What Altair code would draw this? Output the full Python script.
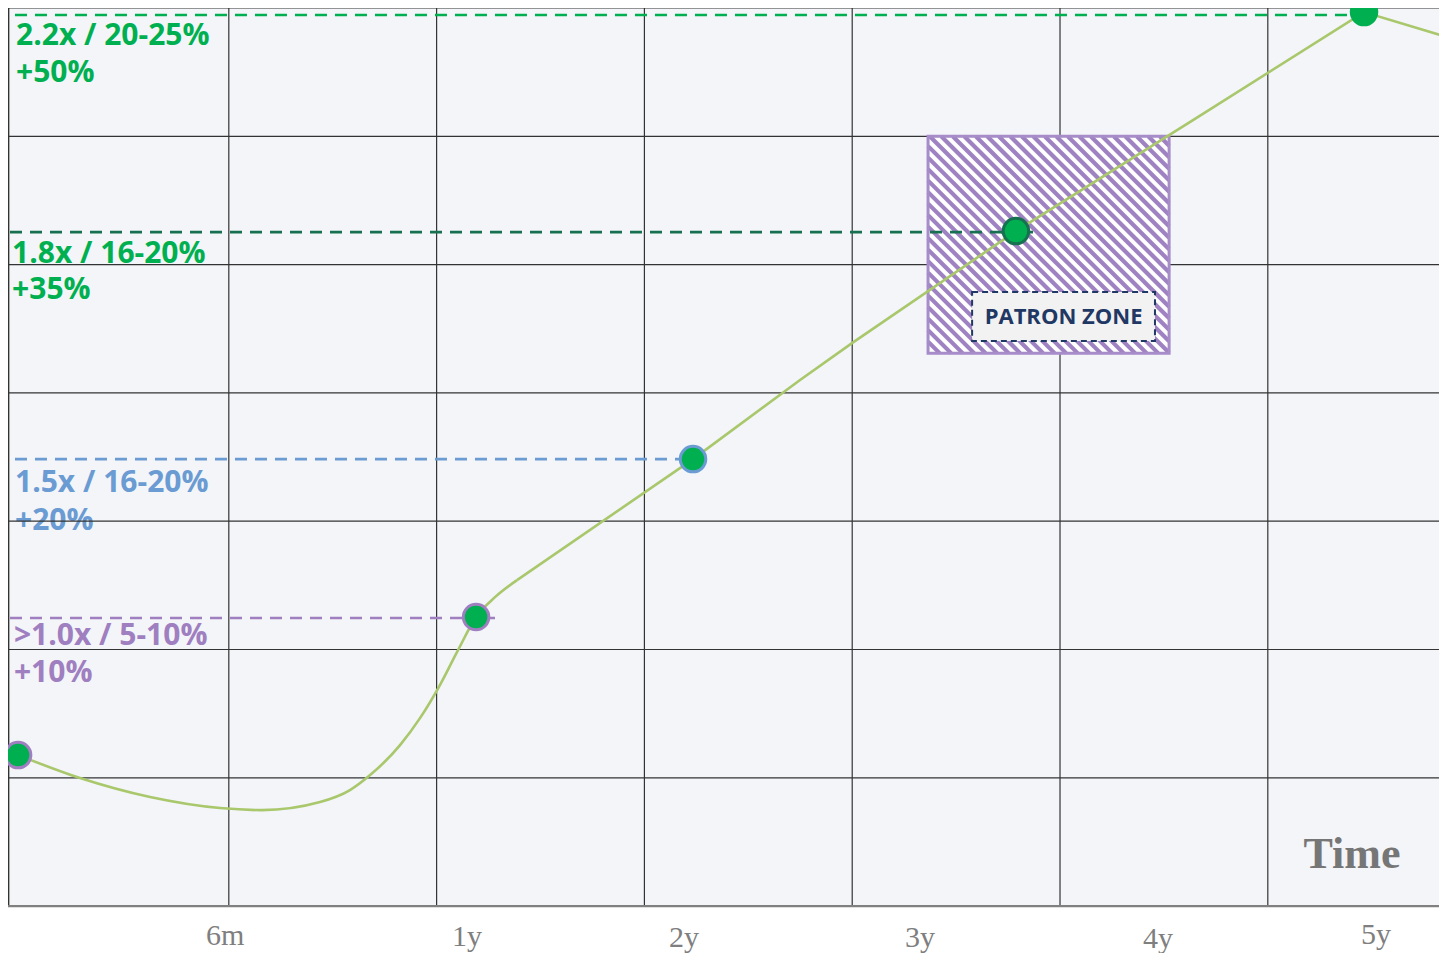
import altair as alt
import numpy as np
import pandas as pd

# ---------------- data (grid step = 1 unit on both axes) ----------------
# smooth part of the growth curve
curve1_x = [-0.014, 0.284, 0.621, 0.958, 1.160, 1.439, 1.583, 1.680, 1.824, 1.920,
            2.016, 2.103, 2.190, 2.281, 2.387]
curve1_y = [1.177, 0.998, 0.850, 0.764, 0.748, 0.811, 0.904, 1.021, 1.255, 1.465,
            1.723, 1.995, 2.253, 2.408, 2.541]
# straight part of the growth curve
curve2_x = [2.387, 3.234, 3.749, 3.999, 4.788, 5.640, 6.463, 6.862]
curve2_y = [2.541, 3.484, 4.100, 4.388, 5.261, 6.126, 6.968, 6.773]

# milestone dots
dot_x = [-0.014, 2.190, 3.234, 4.788, 6.463]
dot_y = [1.177, 2.253, 3.484, 5.261, 6.968]
dot_stroke = ["#9f7fc0", "#9f7fc0", "#6a9bd2", "#17704f", "#00b050"]

# dashed level lines
lvl_y = [6.945, 5.253, 3.484, 2.245]
lvl_x0 = [-0.029, -0.053, -0.029, -0.053]
lvl_x1 = [6.396, 4.870, 3.234, 2.281]
lvl_color = ["#00b050", "#17704f", "#6a9bd2", "#9f7fc0"]

# level texts
lvl_text = ["2.2x / 20-25%", "+50%", "1.8x / 16-20%", "+35%",
            "1.5x / 16-20%", "+20%", ">1.0x / 5-10%", "+10%"]
lvl_text_x = [-0.024, -0.024, -0.043, -0.043, -0.029, -0.029, -0.034, -0.034]
lvl_text_y = [6.711, 6.422, 5.012, 4.731, 3.227, 2.931, 2.034, 1.746]
lvl_text_color = ["#00b050", "#00b050", "#00b050", "#00b050",
                  "#6a9bd2", "#6a9bd2", "#9f7fc0", "#9f7fc0"]

# time labels under the chart
time_labels = ["6m", "1y", "2y", "3y", "4y", "5y"]
time_x = [0.982, 2.146, 3.190, 4.326, 5.472, 6.521]
time_y = [-0.304, -0.312, -0.322, -0.322, -0.328, -0.296]

# patron zone box and its label box
zone_x = [4.365, 5.525]
zone_y = [4.310, 6.000]
zone_label_x = [4.577, 5.457]
zone_label_y = [4.404, 4.786]

grid_v = [1, 2, 3, 4, 5, 6]
grid_h = [1, 2, 3, 4, 5, 6, 7]

# ---------------- layout ----------------
W, H = 1431, 945
X_MIN = -0.0626
X_MAX = X_MIN + W / 207.8
Y_MAX = 7.0
Y_MIN = Y_MAX - H / 128.3

xs = alt.Scale(domain=[X_MIN, X_MAX], nice=False, zero=False)
ys = alt.Scale(domain=[Y_MIN, Y_MAX], nice=False, zero=False)


def enc_xy(x="x", y="y"):
    return dict(x=alt.X(f"{x}:Q", scale=xs, axis=None),
                y=alt.Y(f"{y}:Q", scale=ys, axis=None))


def seg_layer(df, color, width, dash=None):
    kw = dict(color=color, strokeWidth=width)
    if dash:
        kw["strokeDash"] = dash
    return alt.Chart(df).mark_rule(**kw).encode(
        x=alt.X("x:Q", scale=xs, axis=None), x2="x2:Q",
        y=alt.Y("y:Q", scale=ys, axis=None), y2="y2:Q")


def rect_layer(df, **kw):
    return alt.Chart(df).mark_rect(**kw).encode(
        x=alt.X("x:Q", scale=xs, axis=None), x2="x2:Q",
        y=alt.Y("y:Q", scale=ys, axis=None), y2="y2:Q")


bg = rect_layer(pd.DataFrame({"x": [X_MIN], "x2": [X_MAX], "y": [0.0], "y2": [Y_MAX]}),
                color="#f3f5f9")

texts = alt.Chart(pd.DataFrame({"x": lvl_text_x, "y": lvl_text_y, "t": lvl_text,
                                "c": lvl_text_color})).mark_text(
    align="left", baseline="alphabetic", font="Open Sans", fontWeight="bold",
    fontSize=30).encode(**enc_xy(), text="t:N", color=alt.Color("c:N", scale=None))

vgrid = seg_layer(pd.DataFrame({"x": grid_v, "x2": grid_v, "y": [0.0] * 6, "y2": [Y_MAX] * 6}),
                  "#333333", 1.2)
hgrid = seg_layer(pd.DataFrame({"x": [X_MIN] * 7, "x2": [X_MAX] * 7, "y": grid_h, "y2": grid_h}),
                  "#333333", 1.2)
left_axis = seg_layer(pd.DataFrame({"x": [X_MIN + 0.003], "x2": [X_MIN + 0.003],
                                    "y": [0.0], "y2": [Y_MAX]}), "#333333", 1.5)
bottom_axis = seg_layer(pd.DataFrame({"x": [X_MIN], "x2": [X_MAX], "y": [0.0], "y2": [0.0]}),
                        "#808080", 2.2)

# hatch of the patron zone (45 degree stripes in screen space)
px_x = W / (X_MAX - X_MIN)
px_y = H / (Y_MAX - Y_MIN)
bw = (zone_x[1] - zone_x[0]) * px_x
bh = (zone_y[1] - zone_y[0]) * px_y
rows = []
for c in np.arange(-bh, bw, 11.5):
    t0, t1 = max(0.0, -c), min(bh, bw - c)
    if t1 <= t0:
        continue
    rows.append({"x": zone_x[0] + (c + t0) / px_x, "y": zone_y[1] - t0 / px_y,
                 "x2": zone_x[0] + (c + t1) / px_x, "y2": zone_y[1] - t1 / px_y})
hatch_df = pd.DataFrame(rows)

zone_df = pd.DataFrame({"x": [zone_x[0]], "x2": [zone_x[1]], "y": [zone_y[0]], "y2": [zone_y[1]]})
zone_fill = rect_layer(zone_df, color="white")
hatch = seg_layer(hatch_df, "#9f82c2", 4.2)
zone_border = rect_layer(zone_df, fill="white", fillOpacity=0, stroke="#a68cc8", strokeWidth=3)

zl_df = pd.DataFrame({"x": [zone_label_x[0]], "x2": [zone_label_x[1]],
                      "y": [zone_label_y[0]], "y2": [zone_label_y[1]]})
zone_label_box = rect_layer(zl_df, fill="#f2f2f2", stroke="#1f3864", strokeWidth=2,
                            strokeDash=[6, 4])
zone_label = alt.Chart(pd.DataFrame({"x": [sum(zone_label_x) / 2], "y": [sum(zone_label_y) / 2],
                                     "t": ["PATRON ZONE"]})).mark_text(
    align="center", baseline="middle", font="Open Sans", fontWeight="bold", fontSize=22,
    color="#1f3864").encode(**enc_xy(), text="t:N")

level_layers = [
    seg_layer(pd.DataFrame({"x": [lvl_x0[i]], "x2": [lvl_x1[i]], "y": [lvl_y[i]], "y2": [lvl_y[i]]}),
              lvl_color[i], 2.6, [12, 8])
    for i in range(len(lvl_y))
]

curve_a = alt.Chart(pd.DataFrame({"x": curve1_x, "y": curve1_y})).mark_line(
    color="#a9c76b", strokeWidth=2.6, interpolate="monotone").encode(**enc_xy())
curve_b = alt.Chart(pd.DataFrame({"x": curve2_x, "y": curve2_y})).mark_line(
    color="#a9c76b", strokeWidth=2.6, interpolate="linear").encode(**enc_xy())

dots = alt.Chart(pd.DataFrame({"x": dot_x, "y": dot_y, "s": dot_stroke})).mark_circle(
    size=650, opacity=1, strokeWidth=3, fill="#00b050").encode(
    **enc_xy(), stroke=alt.Stroke("s:N", scale=None))

tlabels = alt.Chart(pd.DataFrame({"x": time_x, "y": time_y, "t": time_labels})).mark_text(
    align="center", baseline="alphabetic", font="Liberation Serif", fontSize=30,
    color="#7f7f7f").encode(**enc_xy(), text="t:N")

time_title = alt.Chart(pd.DataFrame({"x": [6.405], "y": [0.296], "t": ["Time"]})).mark_text(
    align="center", baseline="alphabetic", font="Liberation Serif", fontWeight="bold",
    fontSize=44, color="#767676").encode(**enc_xy(), text="t:N")

chart = alt.layer(
    bg, texts, vgrid, hgrid, left_axis, bottom_axis,
    zone_fill, hatch, zone_border, zone_label_box, zone_label,
    *level_layers, curve_a, curve_b, dots, tlabels, time_title
).properties(
    width=W, height=H, padding=0, background="white",
    autosize=alt.AutoSizeParams(type="none")
).configure_view(strokeWidth=0)

chart.save("out.html", embed_options={"renderer": "svg", "actions": False})
